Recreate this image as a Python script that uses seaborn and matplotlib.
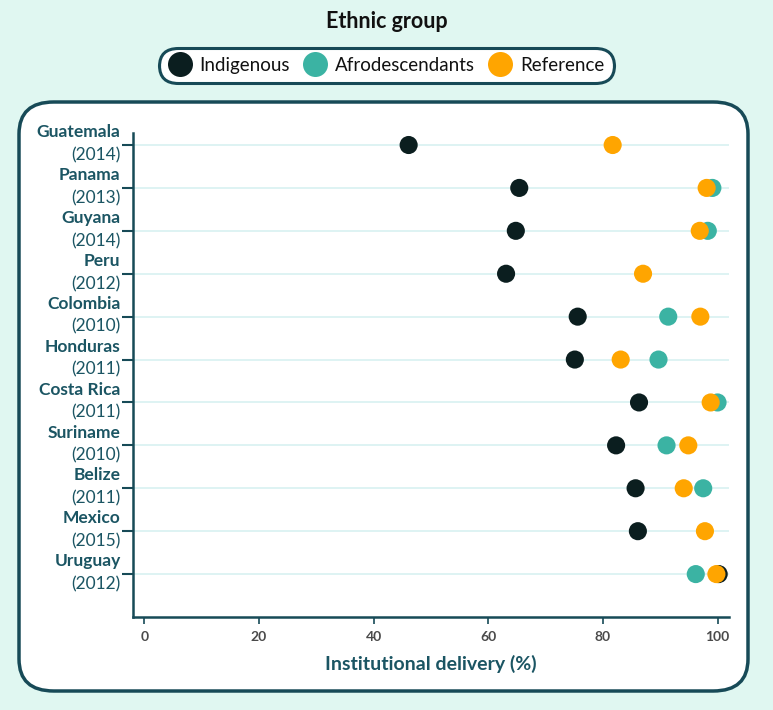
import matplotlib
matplotlib.use("Agg")
import matplotlib.pyplot as plt
from matplotlib.patches import FancyBboxPatch
from matplotlib.lines import Line2D
import seaborn as sns
import pandas as pd
import numpy as np

countries = ["Guatemala", "Panama", "Guyana", "Peru", "Colombia", "Honduras",
             "Costa Rica", "Suriname", "Belize", "Mexico", "Uruguay"]
years = ["2014", "2013", "2014", "2012", "2010", "2011", "2011", "2010", "2011", "2015", "2012"]
indigenous = [46.1, 65.4, 64.8, 63.1, 75.6, 75.1, 86.3, 82.3, 85.7, 86.1, 100.2]
afrodescendants = [np.nan, 99.1, 98.3, np.nan, 91.4, 89.7, 100.0, 91.1, 97.5, np.nan, 96.2]
reference = [81.7, 98.1, 96.9, 87.0, 97.0, 83.1, 98.8, 94.9, 94.1, 97.8, 99.8]

groups = ["Indigenous", "Afrodescendants", "Reference"]
colors = ["#0B1E1F", "#3BB3A3", "#FFA500"]

rows = []
for g, vals in zip(groups, [indigenous, afrodescendants, reference]):
    for i, v in enumerate(vals):
        if not np.isnan(v):
            rows.append({"pos": i, "value": v, "group": g})
df = pd.DataFrame(rows)

sns.set_style("white")
plt.rcParams["font.family"] = ["Lato", "DejaVu Sans"]

BG = "#E0F7F1"
TEAL = "#1B5563"
BORDER = "#174A57"

fig = plt.figure(figsize=(7.73, 7.10), dpi=100, facecolor=BG)
W, H = 773, 710

# panel
panel = FancyBboxPatch((19 / W, (710 - 691) / H), (748 - 19) / W, (691 - 102) / H,
                       boxstyle="round,pad=0,rounding_size=0.045",
                       transform=fig.transFigure, facecolor="white",
                       edgecolor=BORDER, linewidth=2.5, zorder=-5)
fig.patches.append(panel)

ax = fig.add_axes([133 / W, (710 - 617) / H, (729 - 133) / W, (617 - 133) / H])
ax.set_facecolor("none")
ax.set_zorder(2)

for i in range(len(countries)):
    ax.axhline(i, color="#D8F1F1", lw=1.2, zorder=0)

sns.scatterplot(data=df, x="value", y="pos", hue="group", hue_order=groups,
                palette=colors, s=170, linewidth=0, ax=ax, legend=False, zorder=3)

ax.set_xlim(-2, 102)
ax.set_ylim(11.0, -0.28)
ax.set_xticks([0, 20, 40, 60, 80, 100])
ax.set_xticklabels(["0", "20", "40", "60", "80", "100"], fontsize=10,
                   color="#4A4A4A", fontweight="bold")
ax.set_yticks(range(len(countries)))
ax.set_yticklabels([])
ax.tick_params(axis="y", length=8, width=1.5, color=BORDER, left=True)
ax.tick_params(axis="x", length=5, width=1.2, color=BORDER, bottom=True, pad=5)
for s in ["top", "right"]:
    ax.spines[s].set_visible(False)
for s in ["left", "bottom"]:
    ax.spines[s].set_color(BORDER)
    ax.spines[s].set_linewidth(1.8)

ax.set_xlabel("Institutional delivery (%)", fontsize=14, fontweight="bold",
              color=TEAL, labelpad=9)
ax.set_ylabel("")

for i, (c, y) in enumerate(zip(countries, years)):
    ax.annotate(c, xy=(0, i), xycoords=("axes fraction", "data"),
                xytext=(-9, 3.5), textcoords="offset points", ha="right",
                va="bottom", fontsize=12.5, fontweight="bold", color=TEAL)
    ax.annotate(f"({y})", xy=(0, i), xycoords=("axes fraction", "data"),
                xytext=(-9, -1.5), textcoords="offset points", ha="right",
                va="top", fontsize=12.5, color=TEAL)

fig.text(0.5, (710 - 22) / H, "Ethnic group", ha="center", va="center",
         fontsize=15.5, fontweight="bold", color="#111111")

handles = [Line2D([], [], marker="o", linestyle="", markersize=18,
                  markerfacecolor=c, markeredgewidth=0) for c in colors]
leg = fig.legend(handles, groups, loc="center", ncol=3,
                 bbox_to_anchor=(0.5, (710 - 65.5) / H), frameon=True,
                 fontsize=13.5, handletextpad=0.45, columnspacing=0.75,
                 borderpad=0.3, handlelength=1.2)
frame = leg.get_frame()
frame.set_edgecolor(BORDER)
frame.set_linewidth(2.2)
frame.set_facecolor("white")
frame.set_alpha(1)
frame.set_boxstyle("round,pad=0.2,rounding_size=1.0")
for t in leg.get_texts():
    t.set_color("#111111")

fig.savefig("out.png", dpi=100, facecolor=BG)
